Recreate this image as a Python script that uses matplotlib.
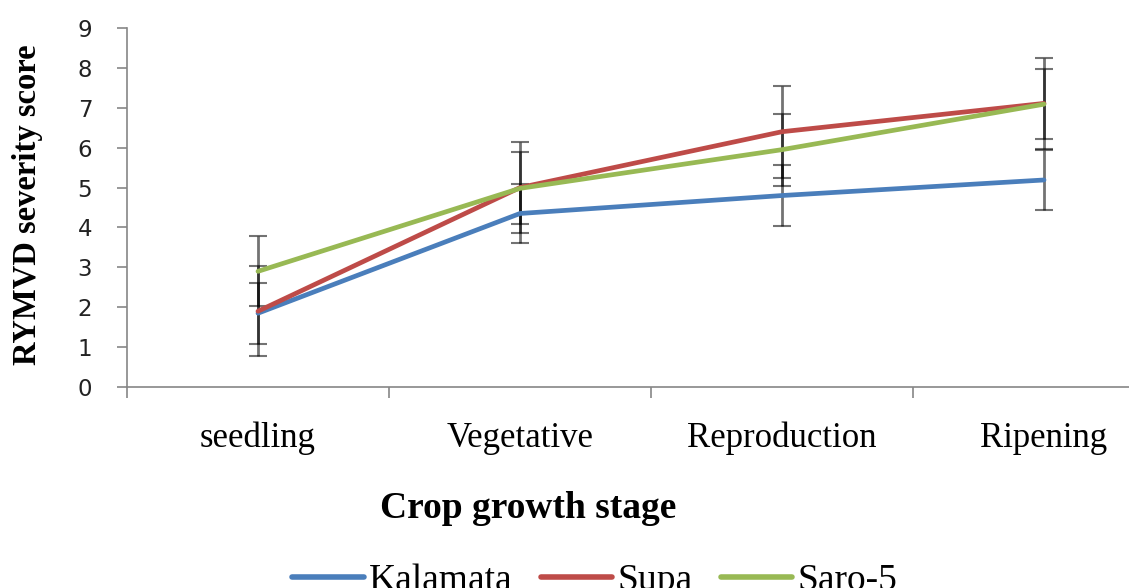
import matplotlib
matplotlib.use("Agg")
import matplotlib.pyplot as plt
import numpy as np

stages = ["seedling", "Vegetative", "Reproduction", "Ripening"]
series_names = ["Kalamata", "Supa", "Saro-5"]
kalamata = [1.85, 4.35, 4.80, 5.19]
kalamata_err = [0.76, 0.75, 0.77, 0.76]
supa = [1.90, 5.00, 6.40, 7.11]
supa_err = [1.13, 1.15, 1.15, 1.15]
saro5 = [2.90, 4.98, 5.95, 7.09]
saro5_err = [0.88, 0.90, 0.90, 0.88]
y_ticks = [0, 1, 2, 3, 4, 5, 6, 7, 8, 9]

colors = ["#4A7EBB", "#BE4B48", "#98B954"]

fig = plt.figure(figsize=(11.29, 5.88), dpi=100)
ax = fig.add_axes([127/1129, (588-387)/588, 1048/1129, 359/588])

x = np.arange(1, len(stages) + 1)
handles = []
for vals, errs, c, name in zip([kalamata, supa, saro5], [kalamata_err, supa_err, saro5_err], colors, series_names):
    h, = ax.plot(x, vals, color=c, lw=3.4, solid_capstyle="round", label=name, zorder=3)
    eb = ax.errorbar(x, vals, yerr=errs, fmt="none", ecolor=(0, 0, 0, 0.55), elinewidth=2.0,
                     capsize=6.5, capthick=1.5, zorder=2)
    for cl in eb[1]:
        cl.set_color((0, 0, 0, 0.85))
    handles.append(h)

ax.set_xlim(0.5, 4.5)
ax.set_ylim(0, 9)
ax.set_yticks(y_ticks)
ax.set_yticklabels([str(t) for t in y_ticks], fontsize=16.5, family="DejaVu Sans", color="#222222")
ax.set_xticks([0.5, 1.5, 2.5, 3.5, 4.5])
ax.set_xticklabels([])
ax.set_xticks(x, minor=True)
ax.set_xticklabels(stages, minor=True, fontsize=25, family="Liberation Serif")
ax.tick_params(axis="x", which="minor", length=0, pad=25)
ax.tick_params(axis="x", which="major", length=8, color="#868686", width=1.2)
ax.tick_params(axis="y", length=7, color="#868686", width=1.2, pad=18)
for s in ["top", "right"]:
    ax.spines[s].set_visible(False)
for s in ["left", "bottom"]:
    ax.spines[s].set_color("#868686")
    ax.spines[s].set_linewidth(1.2)

fig.text(28/1129, 1 - 205/588, "RYMVD severity score", rotation=90, ha="center", va="center",
         fontsize=23.5, family="Liberation Serif", fontweight="bold")
fig.text(528/1129, 1 - 509/588, "Crop growth stage", ha="center", va="center",
         fontsize=27, family="Liberation Serif", fontweight="bold")

leg = fig.legend(handles, series_names, loc="center", bbox_to_anchor=(595/1129, 1 - 581/588),
                 ncol=3, frameon=False, prop={"family": "Liberation Serif", "size": 27},
                 handlelength=1.9, columnspacing=0.75, handletextpad=0.15)
for lh in leg.get_lines():
    lh.set_linewidth(4)

fig.savefig("out.png", dpi=100)
